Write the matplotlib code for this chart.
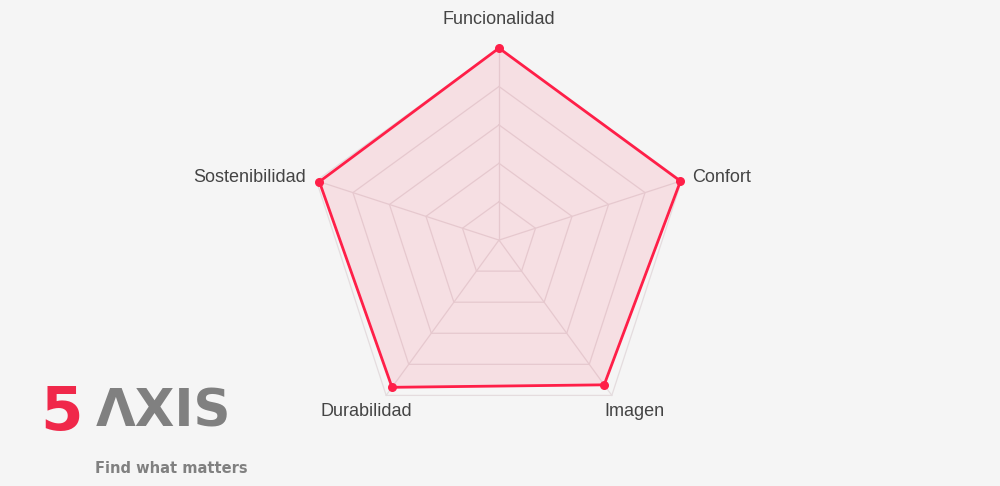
import numpy as np
import matplotlib
matplotlib.use("Agg")
import matplotlib.pyplot as plt

categories = ["Funcionalidad", "Confort", "Imagen", "Durabilidad", "Sostenibilidad"]
values = [5.0, 4.97, 4.66, 4.74, 4.92]

fig = plt.figure(figsize=(10, 4.86), dpi=100)
fig.patch.set_facecolor("#f5f5f5")
ax = fig.add_axes([0.307, 0.111, 0.384, 0.790], projection="polar")
ax.set_facecolor("none")
n = len(categories)
ang = np.linspace(0, 2*np.pi, n, endpoint=False)
ax.set_theta_offset(np.pi/2)
ax.set_theta_direction(-1)
ax.set_ylim(0, 5)
ax.axis("off")
grid = "#e4dcde"
for r in range(1, 6):
    a = np.append(ang, ang[0])
    ax.plot(a, [r]*(n+1), color=grid, lw=0.9, zorder=1, clip_on=False)
for t in ang:
    ax.plot([t, t], [0, 5], color=grid, lw=0.9, zorder=1, clip_on=False)
va = np.append(values, values[0]); aa = np.append(ang, ang[0])
ax.fill(aa, va, color="#ff1f48", alpha=0.1, zorder=2, clip_on=False)
ax.plot(aa, va, color="#ff1f48", lw=2, zorder=3, clip_on=False)
ax.scatter(ang, values, color="#ff1f48", s=30, zorder=4, clip_on=False)
pos = [(0.0, 5.75, "center"), (ang[1], 5.3, "left"), (2.475, 5.69, "center"),
       (3.80, 5.66, "center"), (ang[4], 5.3, "right")]
for c, (t, r, ha) in zip(categories, pos):
    ax.text(t, r, c, ha=ha, va="center", fontsize=13, color="#444444",
            family=["Liberation Sans", "DejaVu Sans"])

fig.text(0.040, 0.150, "5", fontsize=44, fontweight="bold", color="#f0284a", ha="left", va="center")
fig.text(0.096, 0.152, "ΛXIS", fontsize=37, fontweight="bold", color="#808080", ha="left", va="center")
fig.text(0.095, 0.037, "Find what matters", fontsize=10.5, fontweight="bold", color="#808080", ha="left", va="center")
fig.savefig("out.png", facecolor=fig.get_facecolor())
